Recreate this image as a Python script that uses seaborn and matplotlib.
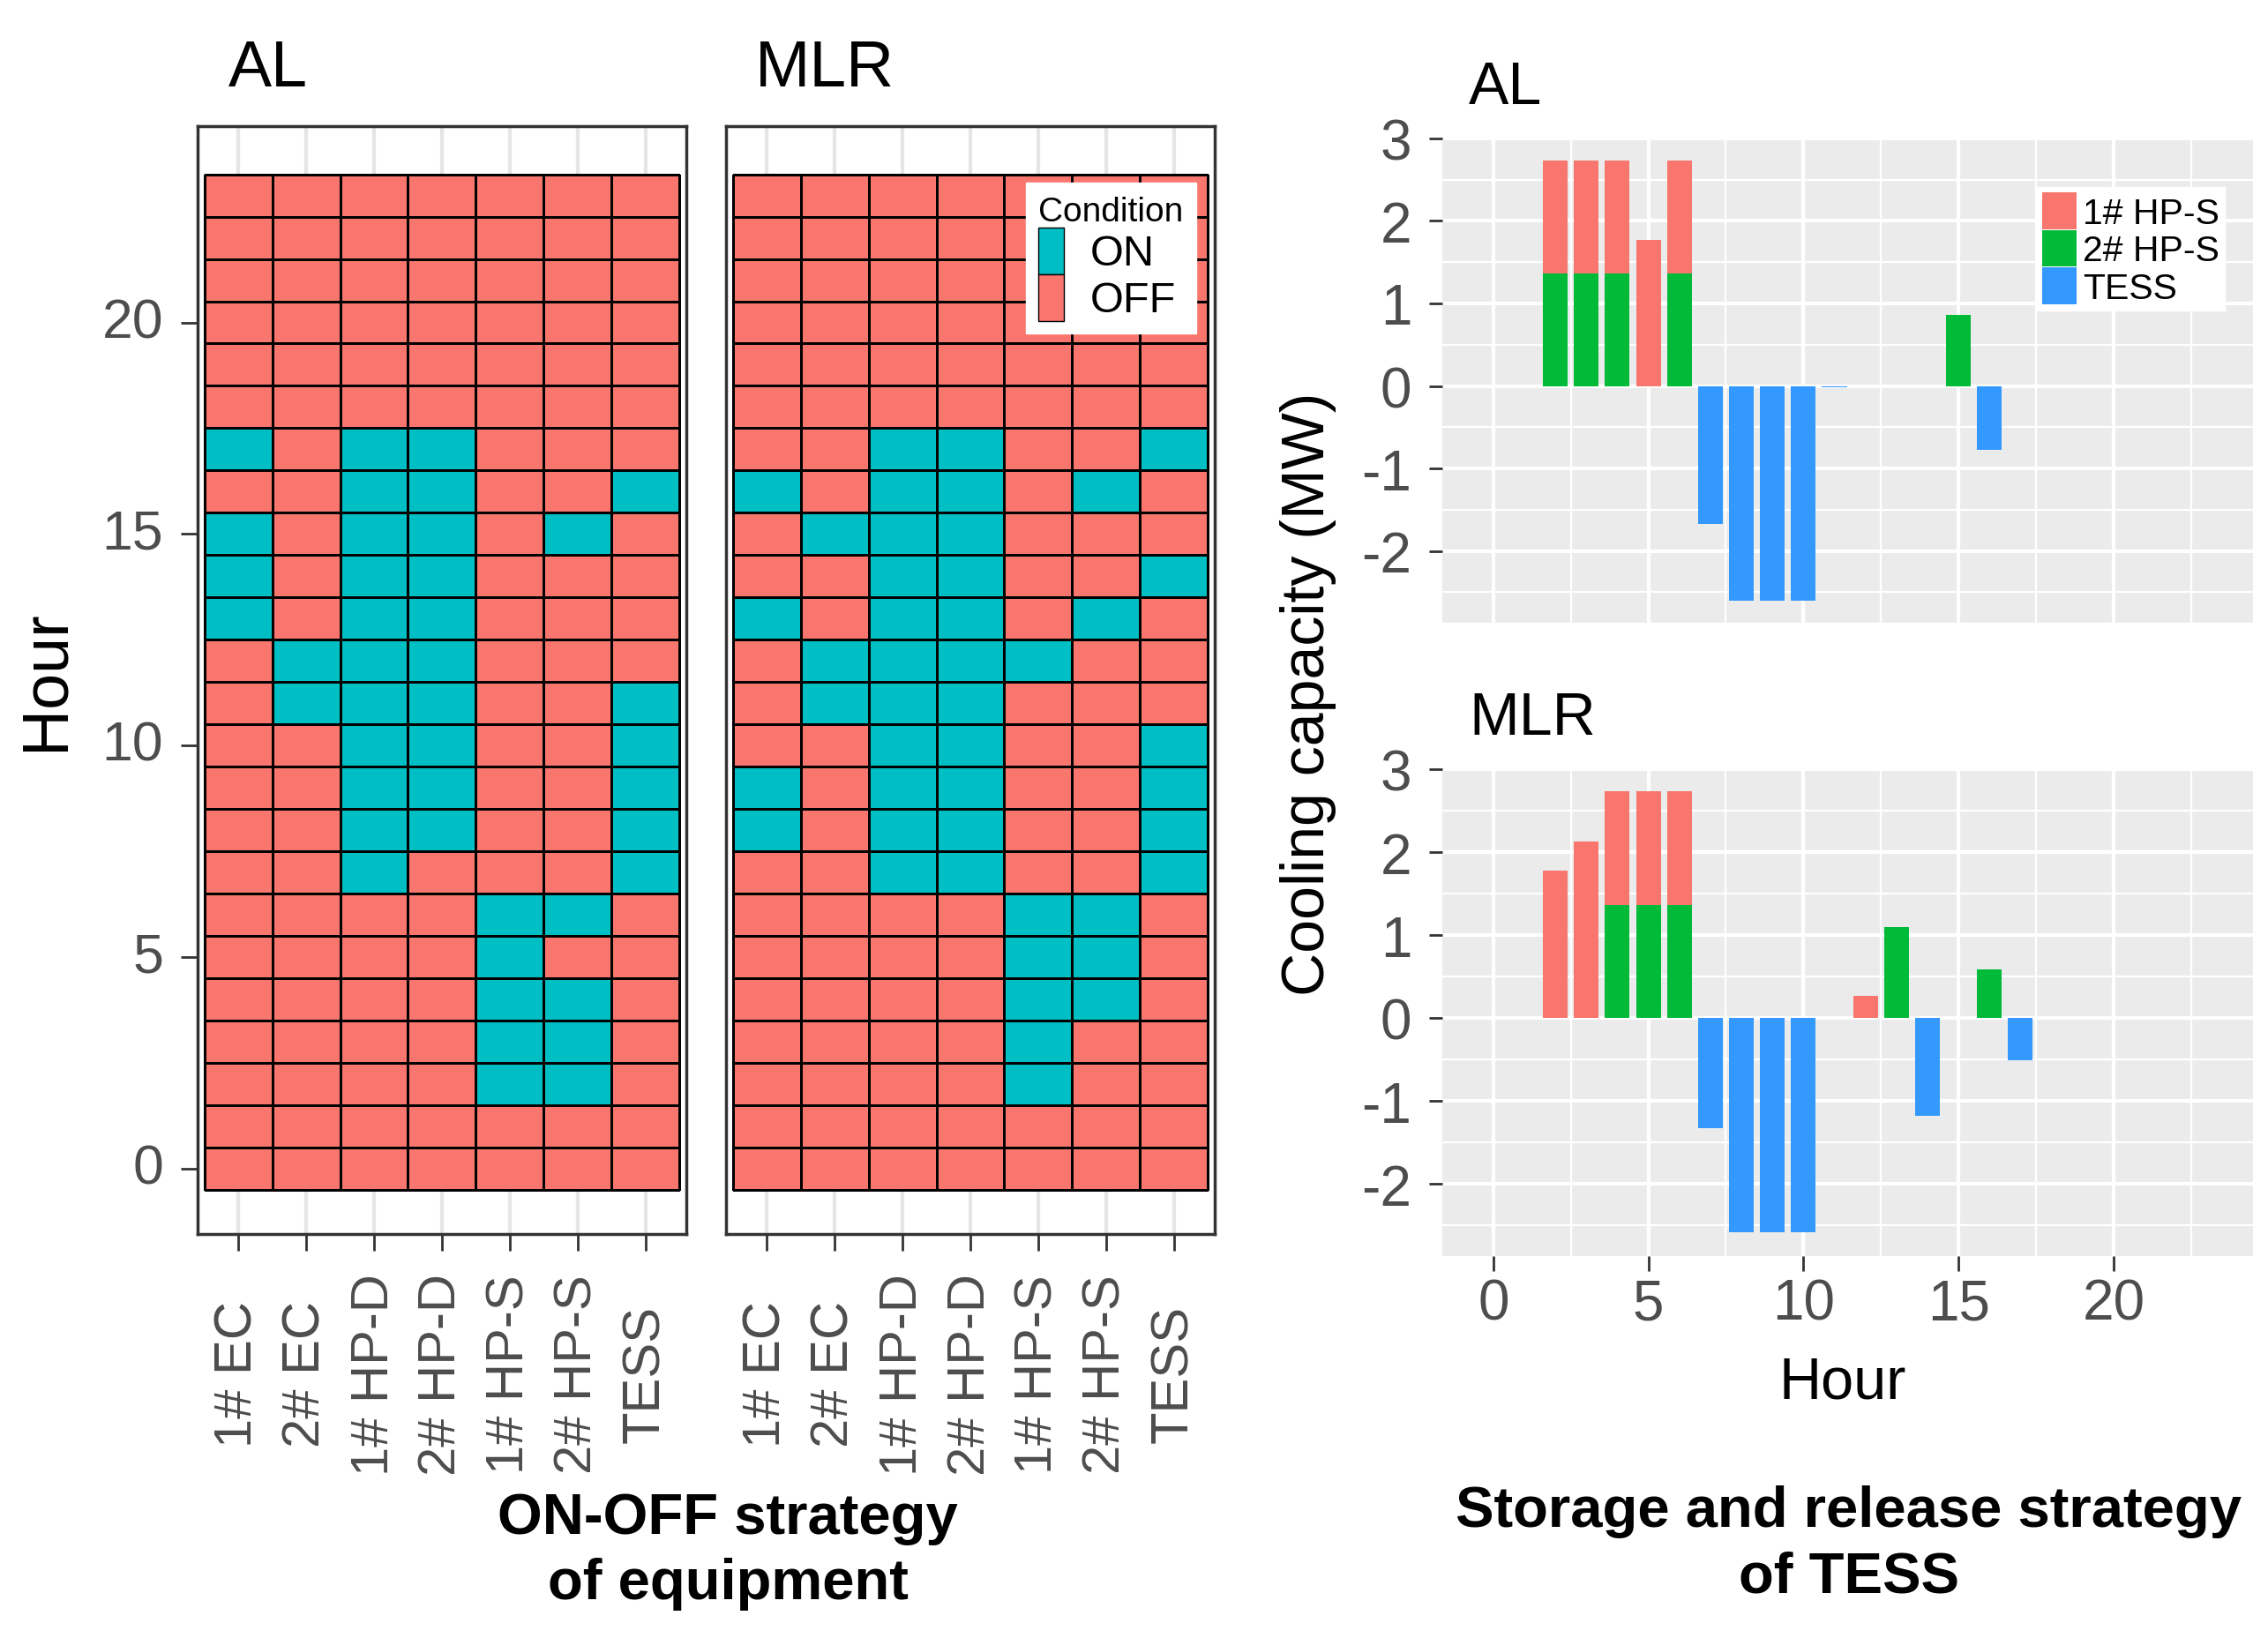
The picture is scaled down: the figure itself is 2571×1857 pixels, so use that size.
import numpy as np
import pandas as pd
import matplotlib
matplotlib.use('Agg')
from matplotlib import pyplot as plt
from matplotlib.colors import ListedColormap
from matplotlib.patches import Patch
from matplotlib.ticker import MultipleLocator
import seaborn as sns

# ON-OFF heatmap categories
equipment = ['1# EC', '2# EC', '1# HP-D', '2# HP-D', '1# HP-S', '2# HP-S', 'TESS']
hours = list(range(24))
hour_ticks = [0, 5, 10, 15, 20]
condition_labels = ['ON', 'OFF']

# hours in which each unit is ON (same order as equipment)
al_on_hours = [
    [13, 14, 15, 17],
    [11, 12],
    [7, 8, 9, 10, 11, 12, 13, 14, 15, 16, 17],
    [8, 9, 10, 11, 12, 13, 14, 15, 16, 17],
    [2, 3, 4, 5, 6],
    [2, 3, 4, 6, 15],
    [7, 8, 9, 10, 11, 16],
]
mlr_on_hours = [
    [8, 9, 13, 16],
    [11, 12, 15],
    [7, 8, 9, 10, 11, 12, 13, 14, 15, 16, 17],
    [7, 8, 9, 10, 11, 12, 13, 14, 15, 16, 17],
    [2, 3, 4, 5, 6, 12],
    [4, 5, 6, 13, 16],
    [7, 8, 9, 10, 14, 17],
]

# storage (+) and release (-) of TESS, MW
units = ['1# HP-S', '2# HP-S', 'TESS']
al_hp1_hours = [2, 3, 4, 5, 6]
al_hp1_mw = [1.37, 1.37, 1.37, 1.77, 1.37]
al_hp2_hours = [2, 3, 4, 6, 15]
al_hp2_mw = [1.36, 1.36, 1.36, 1.36, 0.86]
al_tess_hours = [7, 8, 9, 10, 11, 16]
al_tess_mw = [-1.67, -2.60, -2.60, -2.60, -0.02, -0.78]

mlr_hp1_hours = [2, 3, 4, 5, 6, 12]
mlr_hp1_mw = [1.78, 2.13, 1.37, 1.37, 1.37, 0.27]
mlr_hp2_hours = [4, 5, 6, 13, 16]
mlr_hp2_mw = [1.36, 1.36, 1.36, 1.10, 0.59]
mlr_tess_hours = [7, 8, 9, 10, 14, 17]
mlr_tess_mw = [-1.33, -2.58, -2.58, -2.58, -1.18, -0.51]

bar_hour_ticks = [0, 5, 10, 15, 20]
mw_ticks = [-2, -1, 0, 1, 2, 3]

c_off = '#F8766D'
c_on = '#00BFC4'
bar_palette = {'1# HP-S': '#F8766D', '2# HP-S': '#00BA38', 'TESS': '#3399FF'}
tick_col = '#333333'
label_col = '#4D4D4D'

plt.rcParams['font.family'] = ['Liberation Sans', 'DejaVu Sans']
plt.rcParams['axes.unicode_minus'] = False

fig = plt.figure(figsize=(25.71, 18.58), dpi=100)


def draw_onoff(ax, on_hours, show_y):
    grid = pd.DataFrame(0, index=hours[::-1], columns=equipment)
    for name, hrs in zip(equipment, on_hours):
        grid.loc[hrs, name] = 1
    sns.heatmap(grid, ax=ax, cmap=ListedColormap([c_off, c_on]), vmin=0, vmax=1,
                cbar=False, linewidths=1.0, linecolor='black')
    ax.set_xlim(-0.1, len(equipment) + 0.1)
    ax.set_ylim(len(hours) + 1.05, -1.14)
    # light panel grid like theme_bw
    ax.set_xticks(np.arange(len(equipment)) + 0.5, equipment, rotation=90, va='center', ha='center')
    ax.grid(axis='x', color='#E5E5E5', linewidth=3)
    ax.grid(axis='y', visible=False)
    ax.set_axisbelow(True)
    ax.tick_params(axis='x', length=14, width=2, color=tick_col, labelcolor=label_col,
                   labelsize=43, pad=100)
    if show_y:
        ax.set_yticks([len(hours) - 0.5 - h for h in hour_ticks], [str(h) for h in hour_ticks], rotation=0)
        ax.tick_params(axis='y', length=14, width=2, color=tick_col, labelcolor=label_col,
                       labelsize=45, pad=14)
    else:
        ax.set_yticks([])
    for s in ax.spines.values():
        s.set_visible(True)
        s.set_color(tick_col)
        s.set_linewidth(2.5)
    ax.set_xlabel('')
    ax.set_ylabel('')


def draw_bars(ax, hp1_h, hp1_v, hp2_h, hp2_v, tess_h, tess_v, show_x):
    df = pd.DataFrame({
        'Hour': hp1_h + hp2_h + tess_h,
        'MW': hp1_v + hp2_v + tess_v,
        'Unit': [units[0]] * len(hp1_h) + [units[1]] * len(hp2_h) + [units[2]] * len(tess_h),
    })
    sns.histplot(data=df, x='Hour', weights='MW', hue='Unit', hue_order=units,
                 palette=bar_palette, multiple='stack', discrete=True, shrink=0.8,
                 alpha=1, linewidth=0, legend=False, ax=ax)
    ax.set_facecolor('#EBEBEB')
    ax.set_xlim(-1.64, 24.5)
    ax.set_ylim(-2.87, 3.0)
    ax.set_yticks(mw_ticks, [str(v) for v in mw_ticks])
    ax.xaxis.set_minor_locator(MultipleLocator(2.5))
    ax.yaxis.set_minor_locator(MultipleLocator(0.5))
    ax.grid(which='major', color='white', linewidth=3.0)
    ax.grid(which='minor', color='white', linewidth=1.6)
    ax.set_axisbelow(True)
    for s in ax.spines.values():
        s.set_visible(False)
    ax.tick_params(which='minor', length=0)
    ax.tick_params(axis='y', which='major', length=11, width=2, color=tick_col,
                   labelcolor=label_col, labelsize=46, pad=14)
    if show_x:
        ax.set_xticks(bar_hour_ticks, [str(h) for h in bar_hour_ticks], va='center')
        ax.tick_params(axis='x', which='major', length=12, width=2, color=tick_col,
                       labelcolor=label_col, labelsize=46, pad=27)
    else:
        ax.set_xticks(bar_hour_ticks)
        ax.tick_params(axis='x', which='major', length=0, labelbottom=False)
    ax.set_xlabel('')
    ax.set_ylabel('')


# left: ON-OFF strategy heatmaps
ax_al = fig.add_axes([0.0871, 0.2465, 0.2155, 0.676])
ax_mlr = fig.add_axes([0.3201, 0.2465, 0.2155, 0.676])
draw_onoff(ax_al, al_on_hours, True)
draw_onoff(ax_mlr, mlr_on_hours, False)

on_handles = [Patch(facecolor=c_on, edgecolor='black', linewidth=1.0),
              Patch(facecolor=c_off, edgecolor='black', linewidth=1.0)]
leg = ax_mlr.legend(on_handles, condition_labels, title='Condition', loc='upper right',
                    bbox_to_anchor=(0.962, 0.949), fontsize=35, title_fontsize=28,
                    handlelength=0.6, handleheight=1.30, handletextpad=0.6,
                    labelspacing=0, borderpad=0.3, borderaxespad=0, frameon=True,
                    fancybox=False, edgecolor='white', framealpha=1, alignment='left')

# right: storage and release bars
ax_bal = fig.add_axes([0.636, 0.6195, 0.3574, 0.2955])
ax_bmlr = fig.add_axes([0.636, 0.233, 0.3574, 0.2971])
draw_bars(ax_bal, al_hp1_hours, al_hp1_mw, al_hp2_hours, al_hp2_mw,
          al_tess_hours, al_tess_mw, False)
draw_bars(ax_bmlr, mlr_hp1_hours, mlr_hp1_mw, mlr_hp2_hours, mlr_hp2_mw,
          mlr_tess_hours, mlr_tess_mw, True)

bar_handles = [Patch(facecolor=bar_palette[u], edgecolor='none') for u in units]
ax_bal.legend(bar_handles, units, loc='upper right', bbox_to_anchor=(0.965, 0.90),
              fontsize=29.5, handlelength=0.97, handleheight=1.19, handletextpad=0.16,
              labelspacing=0, borderpad=0.15, borderaxespad=0, frameon=True,
              fancybox=False, edgecolor='white', framealpha=1)

# titles and labels
fig.text(0.1007, 0.947, 'AL', fontsize=53, ha='left', va='baseline')
fig.text(0.333, 0.947, 'MLR', fontsize=54, ha='left', va='baseline')
fig.text(0.6476, 0.9365, 'AL', fontsize=49, ha='left', va='baseline')
fig.text(0.6476, 0.5517, 'MLR', fontsize=49, ha='left', va='baseline')
fig.text(0.0204, 0.585, 'Hour', fontsize=53, rotation=90, ha='center', va='center')
fig.text(0.577, 0.5764, 'Cooling capacity (MW)', fontsize=49, rotation=90, ha='center', va='center')
fig.text(0.8125, 0.156, 'Hour', fontsize=48, ha='center', va='center')
fig.text(0.321, 0.0535, 'ON-OFF strategy\nof equipment', fontsize=47, fontweight='bold',
         ha='center', va='center', multialignment='center', linespacing=1.3)
fig.text(0.8152, 0.0575, 'Storage and release strategy\nof TESS', fontsize=47, fontweight='bold',
         ha='center', va='center', multialignment='center', linespacing=1.3)

fig.savefig('out.png', dpi=100, facecolor='white')
